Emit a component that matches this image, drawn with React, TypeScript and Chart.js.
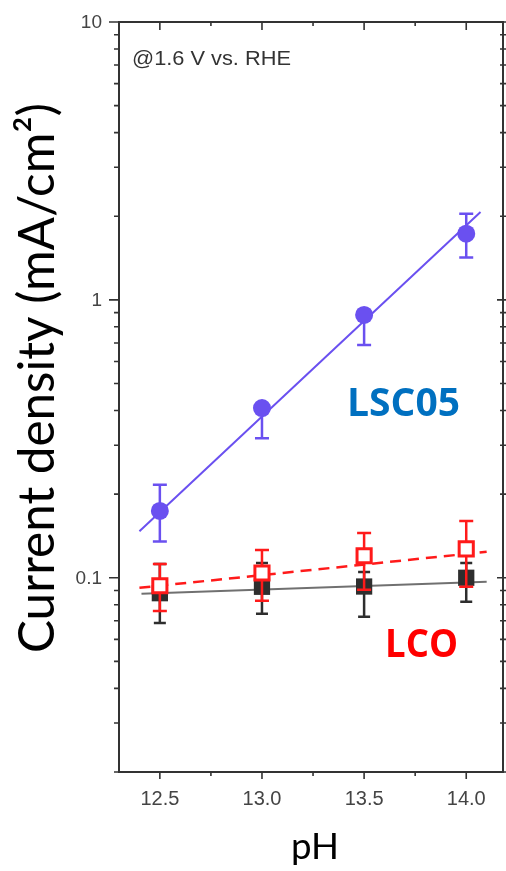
import { useEffect, useRef } from "react";
import { Chart, registerables } from "chart.js";

Chart.register(...registerables);

// pH values of the measurements
const pH = [12.5, 13.0, 13.5, 14.0];

// LSC05 current density (mA/cm²) with error range
const lsc05 = [0.174, 0.408, 0.883, 1.73];
const lsc05High = [0.216, 0.408, 0.883, 2.04];
const lsc05Low = [0.135, 0.318, 0.688, 1.42];

// LCO (open red squares)
const lco = [0.0936, 0.104, 0.12, 0.127];
const lcoHigh = [0.112, 0.126, 0.145, 0.16];
const lcoLow = [0.076, 0.0826, 0.0905, 0.0928];

// filled dark squares
const darkSq = [0.088, 0.0928, 0.093, 0.1];
const darkSqHigh = [0.112, 0.113, 0.105, 0.113];
const darkSqLow = [0.0688, 0.0742, 0.0724, 0.082];

// linear fits on the log scale (end points)
const lscFitX = [12.4, 14.07];
const lscFitY = [0.147, 2.07];
const lcoFitX = [12.4, 14.1];
const lcoFitY = [0.092, 0.124];
const darkFitX = [12.41, 14.1];
const darkFitY = [0.0876, 0.0967];

// axis ticks
const xTickValues = [12.5, 13.0, 13.5, 14.0];
const xTickLabels = ["12.5", "13.0", "13.5", "14.0"];
const xMinorTicks = [12.75, 13.25, 13.75];
const yTickValues = [0.1, 1, 10];
const yTickLabels = ["0.1", "1", "10"];

const X_MIN = 12.3;
const X_MAX = 14.18;
const Y_MIN = 0.02;
const Y_MAX = 10;

const pts = (xs: number[], ys: number[]) => xs.map((x, i) => ({ x, y: ys[i] }));

const PURPLE = "#6a50f0";
const RED = "#ff1a1a";
const DARK = "#2e2e2e";
const AXIS = "#333333";
const TICK_FONT = "'Liberation Sans', Arial, sans-serif";

const errorBars = {
  id: "errorBars",
  beforeDatasetDraw(chart: any, args: any) {
    const ds: any = chart.data.datasets[args.index];
    if (!ds.errHigh) return;
    const ys = chart.scales.y;
    const ctx = chart.ctx;
    ctx.save();
    ctx.strokeStyle = ds.errColor;
    ctx.lineWidth = 2.5;
    const cap = ds.capHalf;
    args.meta.data.forEach((pt: any, i: number) => {
      const x = pt.x;
      const yh = ys.getPixelForValue(ds.errHigh[i]);
      const yl = ys.getPixelForValue(ds.errLow[i]);
      ctx.beginPath();
      ctx.moveTo(x, yh);
      ctx.lineTo(x, yl);
      if (Math.abs(yh - pt.y) > 1) {
        ctx.moveTo(x - cap, yh);
        ctx.lineTo(x + cap, yh);
      }
      if (Math.abs(yl - pt.y) > 1) {
        ctx.moveTo(x - cap, yl);
        ctx.lineTo(x + cap, yl);
      }
      ctx.stroke();
    });
    ctx.restore();
  },
};

function fittedText(
  ctx: CanvasRenderingContext2D,
  text: string,
  font: string,
  width: number,
  align: CanvasTextAlign
) {
  ctx.font = font;
  const w = ctx.measureText(text).width;
  ctx.scale(width / w, 1);
  ctx.textAlign = align;
  ctx.textBaseline = "alphabetic";
  ctx.fillText(text, 0, 0);
}

const frameAndText = {
  id: "frameAndText",
  afterDraw(chart: any) {
    const ctx: CanvasRenderingContext2D = chart.ctx;
    const { left, right, top, bottom } = chart.chartArea;
    const xs = chart.scales.x;
    const ys = chart.scales.y;

    ctx.save();
    ctx.strokeStyle = AXIS;
    ctx.lineWidth = 2;
    ctx.strokeRect(left, top, right - left, bottom - top);

    ctx.lineWidth = 1.6;
    ctx.beginPath();
    // x ticks: bottom outward, top inward
    const xTick = (v: number, major: boolean) => {
      const px = xs.getPixelForValue(v);
      ctx.moveTo(px, bottom);
      ctx.lineTo(px, bottom + (major ? 7 : 4));
      ctx.moveTo(px, top);
      ctx.lineTo(px, top + (major ? 8 : 4));
    };
    xTickValues.forEach((v) => xTick(v, true));
    xMinorTicks.forEach((v) => xTick(v, false));

    // y ticks: left outward, right across the frame
    const yTick = (v: number, major: boolean) => {
      const py = ys.getPixelForValue(v);
      ctx.moveTo(left, py);
      ctx.lineTo(left - (major ? 10 : 5), py);
      ctx.moveTo(right - (major ? 6 : 3), py);
      ctx.lineTo(right + 4, py);
    };
    for (let dec = 0.01; dec < Y_MAX * 0.99; dec *= 10) {
      for (let m = 1; m <= 9; m++) {
        const v = +(m * dec).toPrecision(3);
        if (v < Y_MIN * 0.999 || v > Y_MAX * 1.001) continue;
        yTick(v, m === 1);
      }
    }
    yTick(Y_MAX, true);
    ctx.stroke();

    // tick labels
    ctx.fillStyle = "#444";
    ctx.font = `20px ${TICK_FONT}`;
    ctx.textAlign = "center";
    ctx.textBaseline = "alphabetic";
    xTickValues.forEach((v, i) => {
      ctx.fillText(xTickLabels[i], xs.getPixelForValue(v), bottom + 33);
    });
    ctx.font = `19px ${TICK_FONT}`;
    ctx.textAlign = "right";
    ctx.textBaseline = "middle";
    yTickValues.forEach((v, i) => {
      ctx.fillText(yTickLabels[i], left - 17, ys.getPixelForValue(v) + 1);
    });

    // condition note
    ctx.fillStyle = "#333";
    ctx.save();
    ctx.translate(132, 65);
    fittedText(ctx, "@1.6 V vs. RHE", `20px ${TICK_FONT}`, 159, "left");
    ctx.restore();

    // series labels
    ctx.fillStyle = "#0070c0";
    ctx.save();
    ctx.translate(347, 416);
    fittedText(ctx, "LSC05", "bold 40px 'Open Sans', sans-serif", 113, "left");
    ctx.restore();
    ctx.fillStyle = "#ff0000";
    ctx.save();
    ctx.translate(385, 657);
    fittedText(ctx, "LCO", "bold 40px 'Open Sans', sans-serif", 73, "left");
    ctx.restore();

    // axis titles
    ctx.fillStyle = "#000";
    ctx.save();
    ctx.translate(54, 378);
    ctx.rotate(-Math.PI / 2);
    fittedText(ctx, "Current density (mA/cm²)", "50px Lato, sans-serif", 550, "center");
    ctx.restore();

    ctx.save();
    ctx.translate(315, 859);
    fittedText(ctx, "pH", "36px Lato, sans-serif", 48, "center");
    ctx.restore();

    ctx.restore();
  },
};

export default function App() {
  const canvasRef = useRef<HTMLCanvasElement | null>(null);

  useEffect(() => {
    document.body.style.margin = "0";
    const canvas = canvasRef.current;
    if (!canvas) return;

    const chart = new Chart(canvas, {
      type: "scatter",
      data: {
        datasets: [
          {
            label: "LSC05",
            data: pts(pH, lsc05),
            showLine: false,
            pointStyle: "circle",
            pointRadius: 9,
            backgroundColor: PURPLE,
            borderColor: PURPLE,
            borderWidth: 0,
            errHigh: lsc05High,
            errLow: lsc05Low,
            errColor: PURPLE,
            capHalf: 7,
          } as any,
          {
            label: "LSC05 fit",
            data: pts(lscFitX, lscFitY),
            showLine: true,
            pointRadius: 0,
            borderColor: PURPLE,
            borderWidth: 2,
          },
          {
            label: "LCO",
            data: pts(pH, lco),
            showLine: false,
            pointStyle: "rect",
            pointRadius: 10,
            backgroundColor: "#ffffff",
            borderColor: RED,
            borderWidth: 3,
            errHigh: lcoHigh,
            errLow: lcoLow,
            errColor: RED,
            capHalf: 7,
          } as any,
          {
            label: "LCO fit",
            data: pts(lcoFitX, lcoFitY),
            showLine: true,
            pointRadius: 0,
            borderColor: RED,
            borderWidth: 2.5,
            borderDash: [11, 7],
          },
          {
            label: "dark",
            data: pts(pH, darkSq),
            showLine: false,
            pointStyle: "rect",
            pointRadius: 11.5,
            backgroundColor: DARK,
            borderColor: DARK,
            borderWidth: 0,
            errHigh: darkSqHigh,
            errLow: darkSqLow,
            errColor: DARK,
            capHalf: 6,
          } as any,
          {
            label: "dark fit",
            data: pts(darkFitX, darkFitY),
            showLine: true,
            pointRadius: 0,
            borderColor: "#707070",
            borderWidth: 2,
          },
        ],
      },
      options: {
        responsive: false,
        animation: false,
        layout: { autoPadding: false, padding: { left: 0, right: 3, top: 22, bottom: 0 } },
        plugins: {
          legend: { display: false },
          tooltip: { enabled: false },
        },
        scales: {
          x: {
            type: "linear",
            min: X_MIN,
            max: X_MAX,
            afterBuildTicks: (s: any) => {
              s.ticks = xTickValues.map((v) => ({ value: v }));
            },
            afterFit: (s: any) => {
              s.height = 99;
              s.paddingLeft = 0;
              s.paddingRight = 0;
            },
            ticks: { display: false },
            grid: { display: false, drawTicks: false },
            border: { display: false },
          },
          y: {
            type: "logarithmic",
            min: Y_MIN,
            max: Y_MAX,
            afterBuildTicks: (s: any) => {
              s.ticks = yTickValues.map((v) => ({ value: v }));
            },
            afterFit: (s: any) => {
              s.width = 119;
              s.paddingTop = 0;
              s.paddingBottom = 0;
            },
            ticks: { display: false },
            grid: { display: false, drawTicks: false },
            border: { display: false },
          },
        },
      },
      plugins: [errorBars, frameAndText],
    });

    return () => chart.destroy();
  }, []);

  return (
    <div style={{ width: 506, height: 871 }}>
      <canvas ref={canvasRef} width={506} height={871} style={{ display: "block" }} />
    </div>
  );
}
